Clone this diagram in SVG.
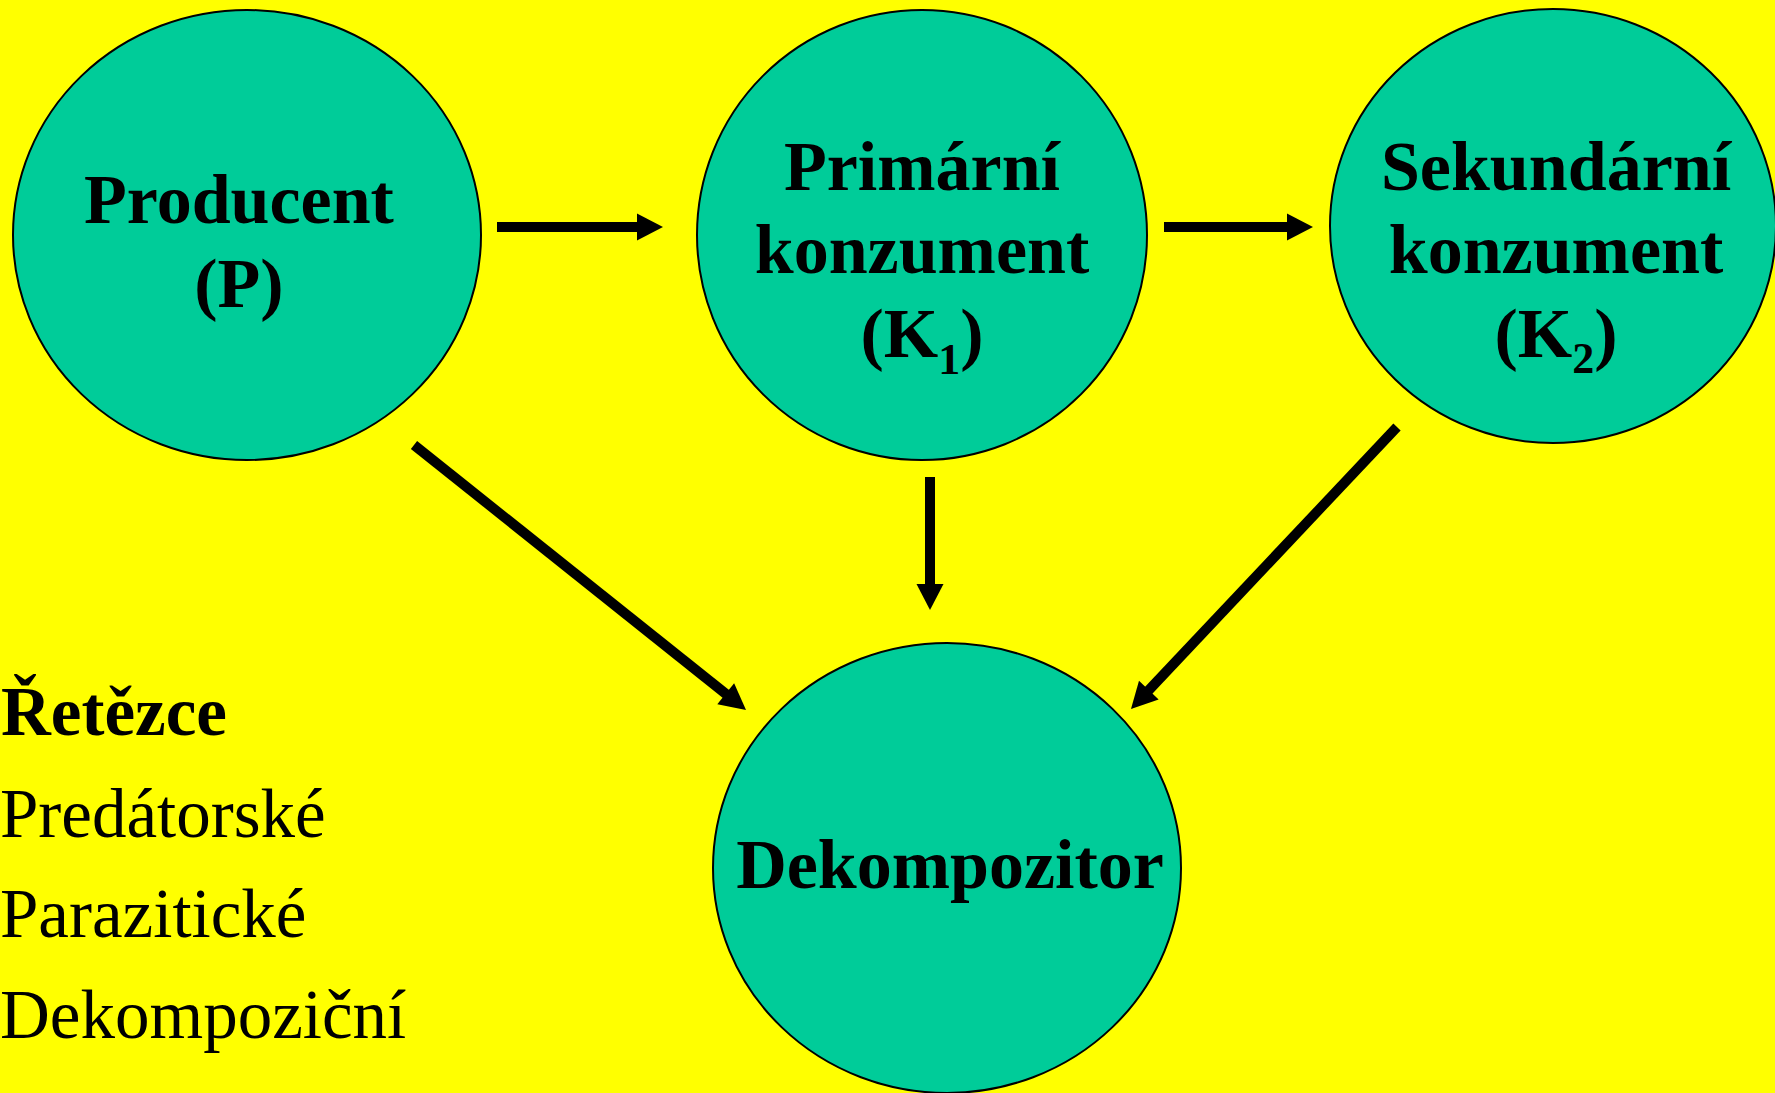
<svg xmlns="http://www.w3.org/2000/svg" width="1775" height="1093" viewBox="0 0 1775 1093">
  <style>
    .node { fill: #00CC99; stroke: #000000; stroke-width: 2; }
    .label { font-family: "Liberation Serif", "Times New Roman", serif; font-weight: bold; font-size: 70px; fill: #000000; text-anchor: middle; }
    .sub { font-size: 44px; }
    .conn { stroke: #000000; stroke-width: 10; fill: none; marker-end: url(#arrow); }
    .list { font-family: "Liberation Serif", "Times New Roman", serif; font-size: 69px; fill: #000000; }
    .list-head { font-family: "Liberation Serif", "Times New Roman", serif; font-size: 69px; font-weight: bold; fill: #000000; }
  </style>
  <defs>
    <marker id="arrow" markerUnits="userSpaceOnUse" markerWidth="27" markerHeight="27" refX="6" refY="13.5" orient="auto" overflow="visible">
      <path d="M0,0 L26,13.5 L0,27 Z" fill="#000000"/>
    </marker>
  </defs>
  <rect x="0" y="0" width="1775" height="1093" fill="#FFFF00"/>

  <g id="connectors">
    <line class="conn" x1="497" y1="227" x2="643" y2="227"/>
    <line class="conn" x1="1164" y1="227" x2="1293" y2="227"/>
    <line class="conn" x1="930" y1="477" x2="930" y2="590"/>
    <line class="conn" x1="414" y1="445" x2="730.4" y2="697.5"/>
    <line class="conn" x1="1397" y1="427" x2="1144.7" y2="694.5"/>
  </g>

  <g id="producent">
    <ellipse class="node" cx="247" cy="235" rx="234" ry="225"/>
    <text class="label" x="239" y="223">Producent</text>
    <text class="label" x="239" y="307">(P)</text>
  </g>

  <g id="primarni-konzument">
    <ellipse class="node" cx="922" cy="235" rx="225" ry="225"/>
    <text class="label" x="922" y="190">Primární</text>
    <text class="label" x="922" y="273">konzument</text>
    <text class="label" x="922" y="357">(K<tspan class="sub" dy="17">1</tspan><tspan dy="-17">)</tspan></text>
  </g>

  <g id="sekundarni-konzument">
    <ellipse class="node" cx="1553" cy="226" rx="223" ry="217"/>
    <text class="label" x="1556" y="190">Sekundární</text>
    <text class="label" x="1556" y="273">konzument</text>
    <text class="label" x="1556" y="357">(K<tspan class="sub" dy="16">2</tspan><tspan dy="-16">)</tspan></text>
  </g>

  <g id="dekompozitor">
    <ellipse class="node" cx="947" cy="868" rx="234" ry="225"/>
    <text class="label" x="950" y="888">Dekompozitor</text>
  </g>

  <g id="retezce-list">
    <text class="list-head" x="1" y="735">Řetězce</text>
    <text class="list" x="0" y="837">Predátorské</text>
    <text class="list" x="0" y="937">Parazitické</text>
    <text class="list" x="0" y="1038">Dekompoziční</text>
  </g>
</svg>
